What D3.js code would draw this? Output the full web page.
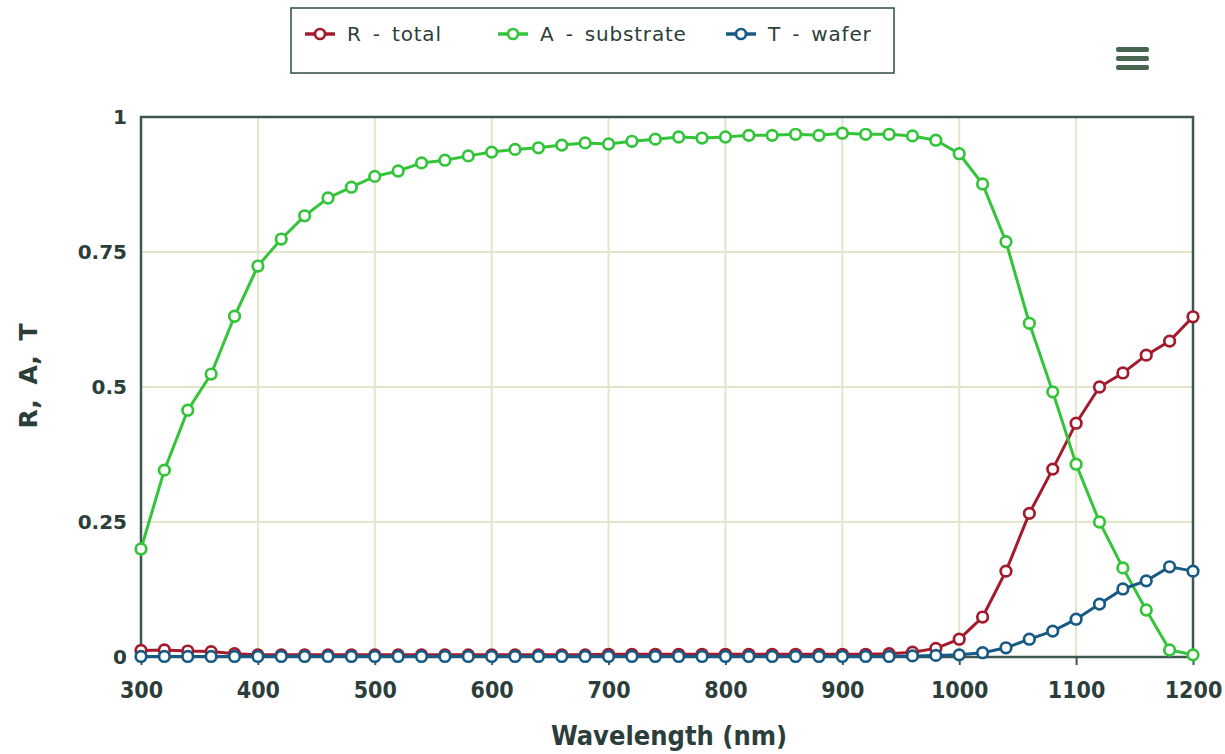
<!DOCTYPE html>
<html><head><meta charset="utf-8">
<script src="https://cdn.jsdelivr.net/npm/d3@7"></script>
<style>
body{margin:0;background:#fff;}
svg{display:block;}
</style></head>
<body><svg id="c" width="1225" height="754"></svg>
<script>
const wavelengths = d3.range(300, 1201, 20);
const seriesNames = ["R - total", "A - substrate", "T - wafer"];
const seriesColors = ["#a31a2e", "#33c43a", "#175a84"];
const R = [0.012,0.013,0.011,0.010,0.006,0.004,0.004,0.004,0.004,0.004,0.004,0.004,0.004,0.004,0.004,0.004,0.004,0.004,0.004,0.004,0.005,0.005,0.005,0.005,0.005,0.005,0.005,0.005,0.005,0.005,0.005,0.005,0.006,0.009,0.016,0.033,0.074,0.159,0.266,0.348,0.433,0.5,0.526,0.559,0.585,0.63];
const A = [0.2,0.346,0.457,0.524,0.631,0.724,0.774,0.817,0.85,0.87,0.89,0.9,0.915,0.92,0.928,0.935,0.94,0.943,0.948,0.952,0.95,0.955,0.959,0.963,0.961,0.963,0.966,0.966,0.968,0.966,0.97,0.968,0.968,0.965,0.957,0.932,0.876,0.769,0.618,0.491,0.357,0.25,0.165,0.087,0.013,0.004];
const T = [0.001,0.001,0.001,0.001,0.001,0.001,0.001,0.001,0.001,0.001,0.001,0.001,0.001,0.001,0.001,0.001,0.001,0.001,0.001,0.001,0.001,0.001,0.001,0.001,0.001,0.001,0.001,0.001,0.001,0.001,0.001,0.001,0.001,0.002,0.003,0.004,0.008,0.017,0.033,0.048,0.07,0.098,0.126,0.141,0.167,0.159];
const xTicks = [300,400,500,600,700,800,900,1000,1100,1200];
const yTicks = [0,0.25,0.5,0.75,1];
const yTickLabels = ["0","0.25","0.5","0.75","1"];

const seriesData = [R, A, T];

const svg = d3.select("#c");
const m = {l:141, r:1193, t:117, b:657};
const x = d3.scaleLinear().domain([300,1200]).range([m.l, m.r]);
const y = d3.scaleLinear().domain([0,1]).range([m.b, m.t]);
const ink = "#2c3e3a";

// grid
const g = svg.append("g");
g.selectAll(".vg").data(xTicks).join("line")
  .attr("x1", d=>x(d)).attr("x2", d=>x(d)).attr("y1", m.t).attr("y2", m.b)
  .attr("stroke", "#e2e5c9").attr("stroke-width", 2);
g.selectAll(".hg").data(yTicks).join("line")
  .attr("x1", m.l).attr("x2", m.r).attr("y1", d=>y(d)).attr("y2", d=>y(d))
  .attr("stroke", "#e2e5c9").attr("stroke-width", 2);

// border
svg.append("rect").attr("x", m.l).attr("y", m.t).attr("width", m.r-m.l).attr("height", m.b-m.t)
  .attr("fill", "none").attr("stroke", "#3f564f").attr("stroke-width", 2.5);

// x axis ticks & labels
const xa = svg.append("g").attr("transform", `translate(0,${m.b})`)
  .call(d3.axisBottom(x).tickValues(xTicks).tickSize(8).tickPadding(17).tickFormat(d3.format("d")));
xa.select(".domain").remove();
xa.selectAll(".tick line").attr("stroke", "#3f564f").attr("stroke-width", 2);
xa.selectAll(".tick text").attr("fill", ink)
  .style("font-family", "'DejaVu Sans Condensed', 'DejaVu Sans'").style("font-weight", "bold").style("font-size", "23px");

const ya = svg.append("g").attr("transform", `translate(${m.l},0)`)
  .call(d3.axisLeft(y).tickValues(yTicks).tickSize(0).tickPadding(14).tickFormat((d,i)=>yTickLabels[i]));
ya.select(".domain").remove();
ya.selectAll(".tick text").attr("fill", ink)
  .style("font-family", "'DejaVu Sans'").style("font-weight", "bold").style("font-size", "20px");

// axis titles
svg.append("text").attr("x", (m.l+m.r)/2 + 2).attr("y", 745).attr("text-anchor", "middle")
  .attr("fill", ink).style("font-family", "'DejaVu Sans Condensed', 'DejaVu Sans'")
  .style("font-weight", "bold").style("font-size", "27px").text("Wavelength (nm)");
svg.append("text").attr("transform", "translate(37,376) rotate(-90)").attr("text-anchor", "middle")
  .attr("fill", ink).style("font-family", "'DejaVu Sans'").style("word-spacing", "6px")
  .style("font-weight", "bold").style("font-size", "25px").text("R, A, T");

// series
const line = d3.line().x((d,i)=>x(wavelengths[i])).y(d=>y(d));
seriesData.forEach((arr, si) => {
  const sg = svg.append("g");
  sg.append("path").datum(arr).attr("d", line).attr("fill", "none")
    .attr("stroke", seriesColors[si]).attr("stroke-width", 3);
  sg.selectAll("circle").data(arr).join("circle")
    .attr("cx", (d,i)=>x(wavelengths[i])).attr("cy", d=>y(d)).attr("r", 5.3)
    .attr("fill", "#fff").attr("stroke", seriesColors[si]).attr("stroke-width", 2.7);
});

// legend
const lg = svg.append("g");
lg.append("rect").attr("x", 291).attr("y", 8).attr("width", 603).attr("height", 65)
  .attr("fill", "#fff").attr("stroke", "#2f4a45").attr("stroke-width", 1.5);
const legendX = [305, 498, 726];
seriesNames.forEach((n, i) => {
  const lx = legendX[i];
  lg.append("line").attr("x1", lx).attr("x2", lx+30).attr("y1", 34).attr("y2", 34)
    .attr("stroke", seriesColors[i]).attr("stroke-width", 3.5);
  lg.append("circle").attr("cx", lx+15).attr("cy", 34).attr("r", 5)
    .attr("fill", "#fff").attr("stroke", seriesColors[i]).attr("stroke-width", 2.7);
  lg.append("text").attr("x", lx+42).attr("y", 41).attr("fill", ink)
    .style("font-family", "'DejaVu Sans'").style("letter-spacing", "0.8px").style("word-spacing", "4px")
    .style("font-size", "20px").text(n);
});

// menu icon
[0,1,2].forEach(k => {
  svg.append("rect").attr("x", 1116).attr("y", 47 + k*9).attr("width", 33).attr("height", 5).attr("rx", 2)
    .attr("fill", "#47654f");
});
</script></body></html>
